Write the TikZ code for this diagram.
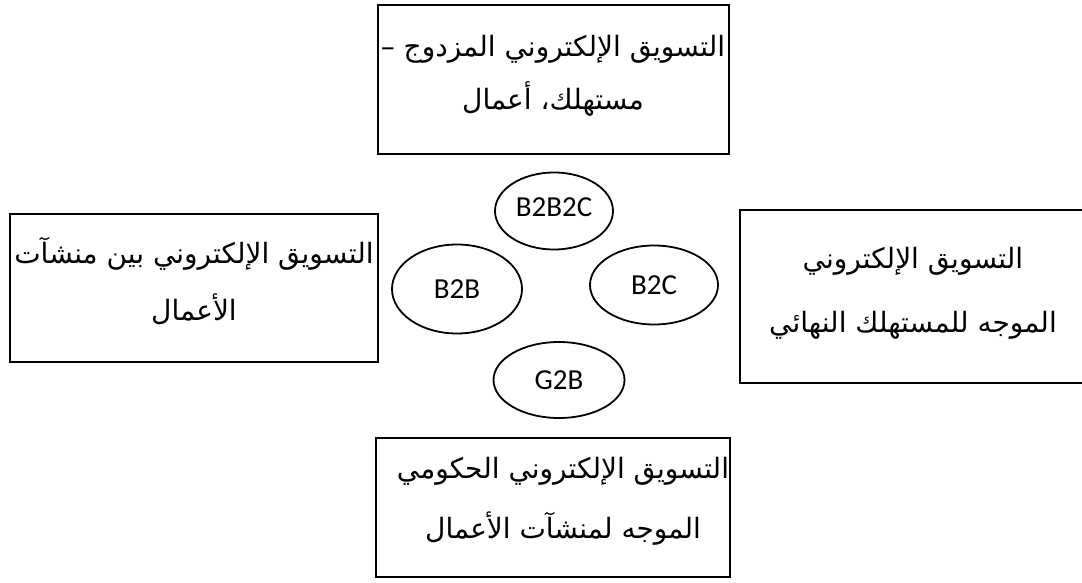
\documentclass[tikz,border=0pt]{standalone}
\usepackage{fontspec}
\setmainfont{Carlito}
\newfontfamily\arabicfont[Script=Arabic]{DejaVu Sans}
\TeXXeTstate=1
\usetikzlibrary{shapes.geometric}
\newcommand{\ar}[1]{\beginR #1\endR}
\begin{document}
\begin{tikzpicture}[x=1pt,y=-1pt,
  panel/.style={draw=black,line width=2.3pt,rectangle,inner sep=0pt},
  bubble/.style={draw=black,line width=1.8pt,ellipse,inner sep=0pt,
    font=\fontsize{29}{32}\selectfont},
  artext/.style={font=\arabicfont\fontsize{28}{#1}\selectfont,align=center,inner sep=0pt}]
\clip (0,0) rectangle (1082,583);
\fill[white] (0,0) rectangle (1082,583);

% outer boxes
\node[panel,minimum width=351pt,minimum height=149pt] (top) at (553.5,79.5) {};
\node[panel,minimum width=368pt,minimum height=148pt] (left) at (194,288) {};
\node[panel,minimum width=348pt,minimum height=173pt] (right) at (914,296.5) {};
\node[panel,minimum width=354pt,minimum height=139pt] (bottom) at (553,507.5) {};

% box texts
\node[artext=53] (toptxt) at (553,76) {\ar{التسويق الإلكتروني المزدوج –}\\\ar{مستهلك، أعمال}};
\node[artext=57] (lefttxt) at (194,281) {\ar{التسويق الإلكتروني بين منشآت}\\\ar{الأعمال}};
\node[artext=64] (righttxt) at (913,293) {\ar{التسويق الإلكتروني}\\\ar{الموجه للمستهلك النهائي}};
\node[artext=60] (bottomtxt) at (563,501) {\ar{التسويق الإلكتروني الحكومي}\\\ar{الموجه لمنشآت الأعمال}};

% central ellipses
\node[bubble,minimum width=118pt,minimum height=77pt] (b2b2c) at (554,211) {\raisebox{7pt}{B2B2C}};
\node[bubble,minimum width=130pt,minimum height=89pt] (b2b) at (457,289) {B2B};
\node[bubble,minimum width=128pt,minimum height=79pt] (b2c) at (654,285) {B2C};
\node[bubble,minimum width=131pt,minimum height=76pt] (g2b) at (559,380) {G2B};
\end{tikzpicture}
\end{document}
